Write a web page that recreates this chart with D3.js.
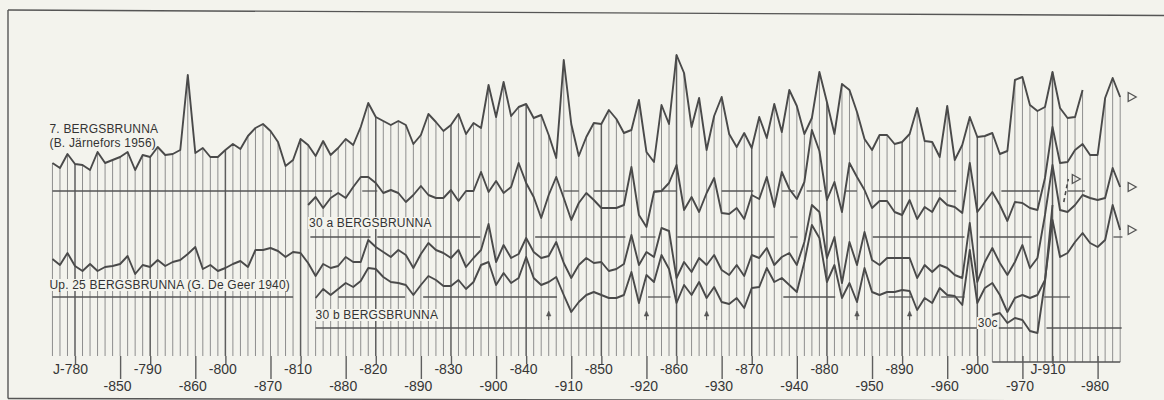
<!DOCTYPE html>
<html>
<head>
<meta charset="utf-8">
<script src="https://cdn.jsdelivr.net/npm/d3@7"></script>
<style>
  body { margin: 0; background: #f3f3ed; }
  svg { display: block; }
</style>
</head>
<body>
<div id="chart"></div>
<script>
// Varve thickness, one value per year (upper time scale),
// in chart units above each series' own zero line.
const s7Start = 777;
const s7 = [28,23,37,27,26,21,39,28,31,34, 39,21,36,34,44,36,37,41,116,38,
  43,34,34,41,47,42,55,63,67,60, 49,25,31,52,46,35,50,36,43,52,
  46,64,88,74,70,66,70,66,47,56, 77,69,60,66,77,57,68,63,106,74,
  109,75,84,87,73,76,56,33,131,67, 35,54,68,67,81,72,58,61,91,39,
  29,86,67,136,118,64,93,41,75,94, 57,44,58,43,74,53,87,59,101,85,
  57,73,119,89,57,107,101,79,52,41, 56,56,47,49,57,83,50,49,34,85,
  31,46,74,54,55,58,37,40,111,114, 86,80,84,119,83,73,74,101];

const s30aStart = 811;
const s30a = [32,40,29,39,44,39,50,60,60,54, 44,47,44,35,42,51,42,39,39,47,
  36,46,46,65,45,56,44,50,74,54, 40,19,42,60,39,17,34,44,37,29,
  29,29,32,70,22,10,45,46,54,72, 27,40,25,44,59,24,23,29,18,42,
  38,60,30,65,48,38,55,107,86,37, 55,25,74,60,47,29,36,36,25,22,
  37,18,30,25,39,32,30,24,74,25, 35,45,32,16,35,34,29,27,59,110,
  74,75,87,93,82,82,139,159,140];

const up25Start = 777;
const up25 = [38,32,44,31,26,33,26,30,31,33, 41,23,32,30,37,31,35,37,43,50,
  28,32,26,29,33,36,30,47,47,49, 46,40,45,44,34,21,33,29,31,40,
  35,35,57,50,45,40,47,42,29,43, 54,47,44,39,47,30,39,47,73,35,
  52,39,43,59,45,39,41,55,34,19, 32,39,34,35,26,28,33,62,32,45,
  40,69,66,19,35,25,39,32,42,27, 22,32,21,42,39,49,32,40,44,32,
  55,92,85,39,60,14,55,32,65,37, 32,39,39,39,39,19,32,25,32,29,
  22,19,74,15,35,49,34,22,35,52, 29,39,82,132,87,85,92,102,99,97,
  99,129,110];

const s30bStart = 812;
const s30b = [30,39,33,39,45,41,47,60,59,51, 46,45,43,33,43,52,48,42,42,48,
  39,46,63,66,43,55,45,50,71,50, 43,46,51,33,16,26,33,36,33,30,
  30,33,56,25,53,46,73,59,25,43, 33,46,30,41,26,24,30,20,40,41,
  60,46,50,43,36,66,103,90,46,63, 30,45,26,60,36,33,36,36,38,37,
  18,30,25,40,33,32,23,78,25,40, 45,33,16,30,33,30,33,48,108,71,
  75,86,95,85,81,88,123,98];

const s30cStart = 902;
const s30c = [47,49,39,44,42,31,29,80,157];
// uncertain continuation of 30c, drawn dashed
const s30cTail = [[911.5, 160], [912.1, 183]];

// zero-line levels (chart units above the lower frame)
const levels = { s7: 209, s30a: 163, up25: 103, s30b: 72, s30c: 38 };

// visible stretches of each zero line, in years
const s7Zero = [[777,814.2],[818.2,820.2],[845,847],[849,853.2],[857,860],[866,870.2],
  [874,875.7],[877.3,879.3],[882.5,884],[886,897.2],[903.2,908.3],[912,914.3]];
const s30aZero = [[811.3,819.3],[820.2,833.9],[841.2,853.2],[855.2,857.2],[860.1,873],
  [875.1,876.1],[886.1,898.3],[900.3,907.2],[918.1,919.3]];
const up25Zero = [[777,809],[815,823.9],[826.3,844.1],[856.2,859.2],[874.2,881.1],
  [888.2,891.2],[895.2,898.3],[908.9,912.3]];
const s30bZero = [[812,906],[909.2,919.2]];
const s30cZero = [[902,919]];

const arrowYears = [843, 856, 864, 884, 891];
const upperTicks = [780,790,800,810,820,830,840,850,860,870,880,890,900,910];
const lowerTicks = [850,860,870,880,890,900,910,920,930,940,950,960,970,980];

const BG = '#f3f3ed', INK = '#4a4a4a', GRID = '#8e8e8e';
const FONT = '"Liberation Sans", Arial, sans-serif';

const W = 1164, H = 400;
const svg = d3.select('#chart').append('svg').attr('width', W).attr('height', H);
svg.append('rect').attr('width', W).attr('height', H).attr('fill', BG);

const x = d3.scaleLinear().domain([780, 910]).range([75, 1052.5]);
const xLow = d3.scaleLinear().domain([850, 980]).range([120.1, 1097.6]);
const y = d3.scaleLinear().domain([0, 400]).range([400, 0]);

const series = [
  { key: 's7', start: s7Start, values: s7, zero: s7Zero },
  { key: 's30a', start: s30aStart, values: s30a, zero: s30aZero, end: true },
  { key: 'up25', start: up25Start, values: up25, zero: up25Zero, end: true },
  { key: 's30b', start: s30bStart, values: s30b, zero: s30bZero, end: true },
  { key: 's30c', start: s30cStart, values: s30c, zero: s30cZero },
];
series.forEach(s => {
  s.level = levels[s.key];
  s.points = s.values.map((v, i) => ({ year: s.start + i, v }));
});

// frame
const frame = svg.append('g').attr('stroke', '#555').attr('stroke-width', 1.4).attr('fill', 'none');
frame.append('line').attr('x1', 8).attr('y1', 10).attr('x2', 8).attr('y2', 398.5);
frame.append('line').attr('x1', 8).attr('y1', 10).attr('x2', W).attr('y2', 15.5);
frame.append('line').attr('x1', 8).attr('y1', 398.5).attr('x2', W).attr('y2', 401);

// one vertical per year, from the highest curve down to the foot line
const topOf = yr => d3.min(series, s => {
  const p = s.points.find(p => p.year === yr);
  return p ? y(s.level + p.v) : null;
});
const years = d3.range(777, 920);
const footOf = yr => yr >= s30cStart ? y(levels.s30c) : y(44);

svg.append('g').selectAll('line').data(years).join('line')
  .attr('x1', d => x(d)).attr('x2', d => x(d))
  .attr('y1', d => topOf(d)).attr('y2', d => footOf(d))
  .attr('stroke', d => upperTicks.includes(d) ? '#5e5e5e' : GRID)
  .attr('stroke-width', d => upperTicks.includes(d) ? 1.5 : 1);

// zero lines
const zeroG = svg.append('g').attr('stroke', '#555').attr('stroke-width', 1.3);
series.forEach(s => {
  zeroG.selectAll(null).data(s.zero).join('line')
    .attr('x1', d => x(d[0])).attr('x2', d => x(d[1]))
    .attr('y1', y(s.level)).attr('y2', y(s.level));
});

// axes
function styleAxis(g) {
  g.select('.domain').remove();
  g.selectAll('.tick line').attr('stroke', '#5e5e5e').attr('stroke-width', 1.4);
  g.selectAll('.tick text').attr('fill', '#363636').attr('font-size', 14)
    .attr('font-family', FONT);
}
svg.append('g').attr('transform', `translate(0,${y(44)})`)
  .call(d3.axisBottom(x).tickValues(upperTicks).tickSize(8).tickPadding(0)
    .tickFormat(d => (d === 780 || d === 910 ? 'J-' : '-') + d))
  .call(styleAxis)
  .call(g => g.selectAll('.tick text').attr('dx', d => (d === 780 || d === 910) ? -5 : -3));
svg.append('g').attr('transform', `translate(0,${y(44)})`)
  .call(d3.axisBottom(xLow).tickValues(lowerTicks).tickSize(23).tickPadding(2)
    .tickFormat(d => '-' + d))
  .call(styleAxis)
  .call(g => g.selectAll('.tick text').attr('dx', -3));

// labels, each on a paper-coloured patch
const labels = [
  { text: '7. BERGSBRUNNA', x: x(777) - 3, y: 133 },
  { text: '(B. Järnefors 1956)', x: x(777) - 3, y: 147 },
  { text: '30 a BERGSBRUNNA', x: x(811) + 1, y: 227 },
  { text: 'Up. 25 BERGSBRUNNA (G. De Geer 1940)', x: x(777) - 3, y: 289 },
  { text: '30 b BERGSBRUNNA', x: x(812), y: 319 },
  { text: '30c', x: x(901) - 7, y: 327 },
];
const labG = svg.append('g');
labels.forEach(l => {
  const t = labG.append('text').attr('x', l.x).attr('y', l.y)
    .attr('font-family', FONT).attr('font-size', 12).attr('fill', '#333')
    .attr('letter-spacing', 0.2).text(l.text);
  const b = t.node().getBBox();
  labG.insert('rect', 'text').attr('x', b.x - 1).attr('y', b.y + 1)
    .attr('width', b.width + 2).attr('height', b.height - 2).attr('fill', BG);
});

// curves
const line = d3.line().x(d => x(d.year));
series.forEach(s => {
  svg.append('path').datum(s.points)
    .attr('d', line.y(d => y(s.level + d.v)))
    .attr('fill', 'none').attr('stroke', INK).attr('stroke-width', 1.9)
    .attr('stroke-linejoin', 'round');
});
svg.append('path').datum(s30cTail)
  .attr('d', d3.line().x(d => x(d[0])).y(d => y(levels.s30c + d[1])))
  .attr('fill', 'none').attr('stroke', INK).attr('stroke-width', 1.6)
  .attr('stroke-dasharray', '4,3');

// open end markers
const tri = (cx, cy) => `M${cx},${cy - 4.5}L${cx + 8},${cy}L${cx},${cy + 4.5}Z`;
const ends = series.filter(s => s.end).map(s => {
  const p = s.points[s.points.length - 1];
  return [x(p.year) + 8, y(s.level + p.v)];
});
const tailEnd = s30cTail[s30cTail.length - 1];
ends.push([x(tailEnd[0]) + 4, y(levels.s30c + tailEnd[1])]);
svg.append('g').selectAll('path').data(ends).join('path')
  .attr('d', d => tri(d[0], d[1]))
  .attr('fill', 'none').attr('stroke', '#555').attr('stroke-width', 1.3);

// small arrows above the 30 b zero line
const arr = svg.append('g').attr('stroke', '#555').attr('fill', '#555');
arrowYears.forEach(yr => {
  const ax = x(yr), ay = y(levels.s30b + 17);
  arr.append('path').attr('d', `M${ax},${ay}L${ax - 2.2},${ay + 5}L${ax + 2.2},${ay + 5}Z`).attr('stroke-width', 0.6);
  arr.append('line').attr('x1', ax).attr('x2', ax).attr('y1', ay + 4).attr('y2', ay + 9).attr('stroke-width', 1);
});
</script>
</body>
</html>
